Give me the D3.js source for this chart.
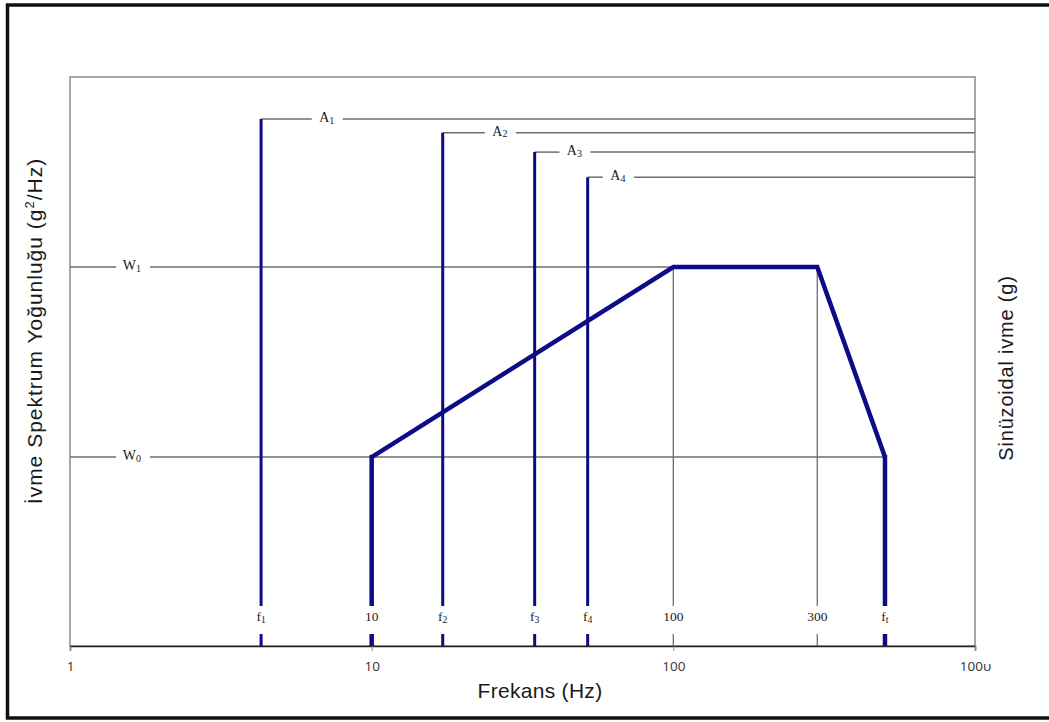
<!DOCTYPE html>
<html>
<head>
<meta charset="utf-8">
<script src="https://cdn.jsdelivr.net/npm/d3@7"></script>
<style>
  html, body { margin: 0; padding: 0; background: #fff; }
  svg { display: block; }
</style>
</head>
<body>
<svg id="chart" width="1049" height="722"></svg>
<script>
// ---- data ----
const axisTickValues = [1, 10, 100, 1000];
const axisTickLabels = ["1", "10", "100", "100\u03c5"];

const sineNames = ["A", "A", "A", "A"];
const sineSubs  = ["1", "2", "3", "4"];
const sineFreqs = [4.3, 17.2, 34.7, 52];          // f1..f4 (Hz)
const sineLevels = [92.6, 90.2, 86.8, 82.4];       // A1..A4 (relative units)
const sineLabelFreqs = [7.1, 26.6, 47.0, 65.5];    // where the A labels sit

const wNames = ["W", "W"];
const wSubs  = ["0", "1"];
const wLevels = [33.2, 66.6];                      // W0, W1 (relative units)
const wLineEnds = [503, 100];                      // how far each W guide runs

const psdFreqs  = [10, 10, 100, 300, 503, 503];
const psdLevels = [0, 33.2, 66.6, 66.6, 33.2, 0];

const gridFreqs = [100, 300];                      // thin vertical guides
const gridTop = 66.6;

const innerLabelFreqs = [4.3, 10, 17.2, 34.7, 52, 100, 300, 503];
const innerLabelMain  = ["f", "10", "f", "f", "f", "100", "300", "f"];
const innerLabelSub   = ["1", "", "2", "3", "4", "", "", "t"];

// ---- layout ----
const svg = d3.select("#chart");
const L = 70, R = 975, T = 77, B = 646;
const x = d3.scaleLog().domain([1, 1000]).range([L, R]);
const y = d3.scaleLinear().domain([0, 100]).range([B, T]);

const navy = "#0c0c86";
const grey = "#6e6e6e";
const serif = "'Liberation Serif', 'Times New Roman', serif";
const sans = "'Liberation Sans', Arial, sans-serif";
const tickSans = "'Open Sans', 'Liberation Sans', sans-serif";

// outer frame
svg.append("rect").attr("x", 7.5).attr("y", 5).attr("width", 1060).attr("height", 713)
  .attr("fill", "none").attr("stroke", "#111").attr("stroke-width", 3.5);

// plot frame
svg.append("rect").attr("x", L).attr("y", T).attr("width", R - L).attr("height", B - T)
  .attr("fill", "none").attr("stroke", "#8a8a8a").attr("stroke-width", 1.5);

const gapTop = 606, gapBot = 634;   // gap in verticals for the inner label row
const labelRowY = 621;

function hLineWithGap(x1, x2, yy, gx1, gx2, color, w) {
  svg.append("line").attr("x1", x1).attr("x2", gx1).attr("y1", yy).attr("y2", yy)
    .attr("stroke", color).attr("stroke-width", w);
  svg.append("line").attr("x1", gx2).attr("x2", x2).attr("y1", yy).attr("y2", yy)
    .attr("stroke", color).attr("stroke-width", w);
}
function vLineWithGap(xx, y1, color, w) {
  svg.append("line").attr("x1", xx).attr("x2", xx).attr("y1", y1).attr("y2", gapTop)
    .attr("stroke", color).attr("stroke-width", w);
  svg.append("line").attr("x1", xx).attr("x2", xx).attr("y1", gapBot).attr("y2", B)
    .attr("stroke", color).attr("stroke-width", w);
}
function subLabel(xx, yy, main, sub, size) {
  const t = svg.append("text").attr("x", xx).attr("y", yy)
    .attr("font-family", serif).attr("font-size", size).attr("fill", "#1a1a1a")
    .attr("text-anchor", "middle").attr("dominant-baseline", "middle");
  t.append("tspan").text(main);
  if (sub) t.append("tspan").attr("font-size", size * 0.72).attr("dy", 2.5).text(sub);
}

// W guides
wLevels.forEach((v, i) => {
  const lx = 132;
  hLineWithGap(L, x(wLineEnds[i]), y(v), lx - 16, lx + 18, grey, 1.5);
  subLabel(lx, y(v), wNames[i], wSubs[i], 14);
});

// thin vertical grid guides at 100 and 300
gridFreqs.forEach(f => vLineWithGap(x(f), y(gridTop), grey, 1.3));

// A guides
sineLevels.forEach((v, i) => {
  const lx = x(sineLabelFreqs[i]);
  hLineWithGap(x(sineFreqs[i]), R, y(v), lx - 15, lx + 16, grey, 1.5);
  subLabel(lx, y(v), sineNames[i], sineSubs[i], 14);
});

// sine dwell verticals
sineFreqs.forEach((f, i) => vLineWithGap(x(f), y(sineLevels[i]), navy, 3));

// PSD profile
const psd = psdFreqs.map((f, i) => [f, psdLevels[i]]);
const topPart = psd.slice(1, 5);
svg.append("path").datum(topPart)
  .attr("d", d3.line().x(d => x(d[0])).y(d => y(d[1])))
  .attr("fill", "none").attr("stroke", navy).attr("stroke-width", 4.5)
  .attr("stroke-linejoin", "miter");
[psd[1], psd[4]].forEach(d => vLineWithGap(x(d[0]), y(d[1]) - 2, navy, 4.5));

// inner label row
innerLabelFreqs.forEach((f, i) => {
  subLabel(x(f), labelRowY - 3, innerLabelMain[i], innerLabelSub[i], 13.5);
});

// bottom axis
const axis = d3.axisBottom(x).tickValues(axisTickValues)
  .tickFormat((d, i) => axisTickLabels[i]).tickSize(5).tickPadding(10);
const ag = svg.append("g").attr("transform", `translate(0,${B})`).call(axis);
ag.select(".domain").attr("stroke", "#222").attr("stroke-width", 1.5);
ag.selectAll(".tick line").attr("stroke", "#888").attr("stroke-width", 1);
ag.selectAll(".tick text").attr("font-family", tickSans).attr("font-size", 13.5).attr("fill", "#333");

// axis titles
svg.append("text").attr("x", 540).attr("y", 698).attr("text-anchor", "middle")
  .attr("font-family", sans).attr("font-size", 21).attr("letter-spacing", 0.3)
  .attr("fill", "#1a1a1a").text("Frekans (Hz)");

const yt = svg.append("text").attr("transform", "translate(42,331) rotate(-90)")
  .attr("text-anchor", "middle").attr("font-family", sans).attr("font-size", 21)
  .attr("letter-spacing", 1).attr("fill", "#1a1a1a");
yt.append("tspan").text("İvme Spektrum Yoğunluğu (g");
yt.append("tspan").attr("font-size", 13).attr("dy", -8).text("2");
yt.append("tspan").attr("dy", 8).text("/Hz)");

svg.append("text").attr("transform", "translate(1013,368) rotate(-90)")
  .attr("text-anchor", "middle").attr("font-family", sans).attr("font-size", 20)
  .attr("letter-spacing", 0.8).attr("fill", "#1a1a1a").text("Sinüzoidal ivme (g)");
</script>
</body>
</html>
